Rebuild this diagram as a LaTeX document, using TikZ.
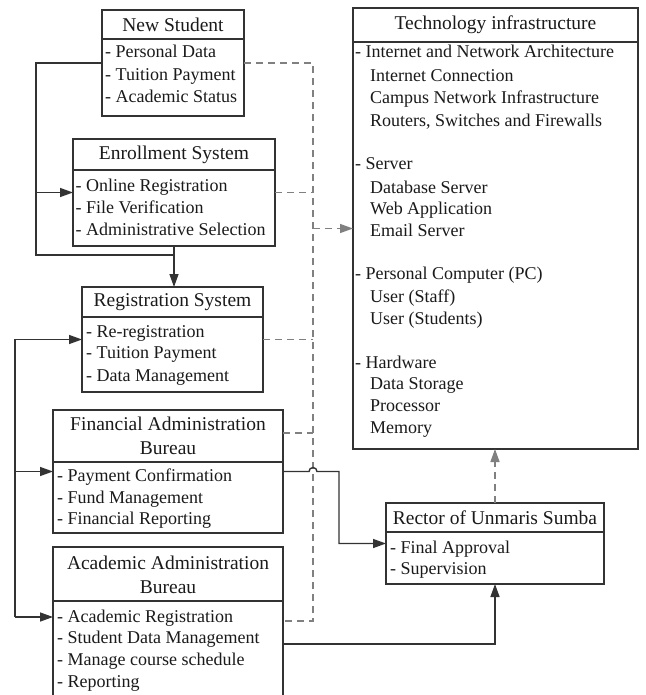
\documentclass[tikz,border=0pt]{standalone}
\usepackage{fontspec}
\setmainfont{Liberation Serif}
\usetikzlibrary{arrows.meta}

\definecolor{ink}{HTML}{1A1A1A}
\definecolor{edge}{HTML}{333333}
\definecolor{dashc}{HTML}{808080}

\tikzset{
  frame/.style={draw=edge, line width=1.5pt, inner sep=0pt, outer sep=0pt},
  divider/.style={draw=edge, line width=1.9pt},
  title/.style={text=ink, font=\fontsize{19.5}{24}\selectfont, align=center, inner sep=0pt},
  item/.style={text=ink, font=\fontsize{18}{22}\selectfont, anchor=base west, inner sep=0pt},
  wire/.style={draw=edge, line width=1.4pt},
  link/.style={draw=dashc, line width=1.4pt, dash pattern=on 7pt off 5pt},
  tip/.style={-{Triangle[length=13pt,width=9pt]}},
}

% frame of a two-part class box: name, left, top, right, bottom, divider
\newcommand\umlframe[6]{%
  \node[frame, minimum width={(#4)-(#2)}, minimum height={(#5)-(#3)}] (#1) at ({((#2)+(#4))/2},{((#3)+(#5))/2}) {};
  \coordinate (#1-dl) at (#2,#6);
  \coordinate (#1-dr) at (#4,#6);
  \draw[divider] (#1-dl) -- (#1-dr);
}

\begin{document}
\begin{tikzpicture}[x=1pt, y=-1pt]
\useasboundingbox (0,0) rectangle (645,695);
\fill[white] (0,0) rectangle (645,695);
\clip (0,0) rectangle (645,695);

% ---------- boxes ----------
\umlframe{ns}{102}{10}{244}{116}{39}
\node[title] (ns-t) at (173,25) {New Student};
\foreach \y/\t [count=\i] in {58/{- Personal Data}, 80.5/{- Tuition Payment}, 103/{- Academic Status}}
  \node[item] (ns-\i) at (105,\y) {\t};

\umlframe{es}{73}{139}{275}{246}{170}
\node[title] (es-t) at (174,155) {Enrollment System};
\foreach \y/\t [count=\i] in {191/{- Online Registration}, 213/{- File Verification}, 235/{- Administrative Selection}}
  \node[item] (es-\i) at (75.5,\y) {\t};

\umlframe{rs}{82}{287}{263}{392}{317}
\node[title] (rs-t) at (172.5,302) {Registration System};
\foreach \y/\t [count=\i] in {337/{- Re-registration}, 358.5/{- Tuition Payment}, 381/{- Data Management}}
  \node[item] (rs-\i) at (86,\y) {\t};

\umlframe{fa}{53}{410}{283}{533}{462}
\node[title] (fa-t) at (168,435.5) {Financial Administration\\Bureau};
\foreach \y/\t [count=\i] in {481/{- Payment Confirmation}, 503/{- Fund Management}, 524/{- Financial Reporting}}
  \node[item] (fa-\i) at (57,\y) {\t};

\umlframe{aa}{53}{547}{283}{712}{601}
\node[title] (aa-t) at (168,574.5) {Academic Administration\\Bureau};
\foreach \y/\t [count=\i] in {622/{- Academic Registration}, 643/{- Student Data Management}, 665/{- Manage course schedule}, 687/{- Reporting}}
  \node[item] (aa-\i) at (57,\y) {\t};

\umlframe{ti}{353}{8}{638}{449}{42}
\node[title] (ti-t) at (495.5,25) {Technology infrastructure};
\foreach \x/\y/\t [count=\i] in {
    355/58/{- Internet and Network Architecture},
    370/82/{Internet Connection},
    370/104/{Campus Network Infrastructure},
    370/127/{Routers, Switches and Firewalls},
    355/169/{- Server},
    370/193/{Database Server},
    370/214/{Web Application},
    370/236/{Email Server},
    355/279/{- Personal Computer (PC)},
    370/302/{User (Staff)},
    370/324/{User (Students)},
    355/368/{- Hardware},
    370/389/{Data Storage},
    370/411/{Processor},
    370/433/{Memory}}
  \node[item] (ti-\i) at (\x,\y) {\t};

\umlframe{rc}{386}{503}{604}{584}{532}
\node[title] (rc-t) at (495,518) {Rector of Unmaris Sumba};
\foreach \y/\t [count=\i] in {553/{- Final Approval}, 574/{- Supervision}}
  \node[item] (rc-\i) at (390,\y) {\t};

% ---------- solid connectors ----------
\coordinate (lbus) at (36,0);
\coordinate (join) at (36,255);
\draw[wire] (ns.west) -| (join) -- (join -| es.south);
\draw[wire, tip] (es.west -| lbus) -- (es.west);
\draw[wire, tip] (es.south) -- (es.south |- rs.north);

\coordinate (bbus) at (15,0);
\coordinate (aa-in) at (53,617);
\draw[wire, tip] (aa-in -| bbus) |- (rs.west);
\draw[wire, tip] (fa.west -| bbus) -- (fa.west);
\draw[wire, tip] (aa-in -| bbus) -- (aa-in);

% ---------- dashed links to the infrastructure ----------
\coordinate (dbus) at (313,0);
\coordinate (fa-out) at (283,433);
\coordinate (aa-out) at (283,621);
\draw[link] (ns.east) -| (aa-out -| dbus) -- (aa-out);
\draw[link] (es.east) -- (es.east -| dbus);
\draw[link] (rs.east) -- (rs.east -| dbus);
\draw[link] (fa-out) -- (fa-out -| dbus);
\draw[link, tip] (ti.west -| dbus) -- (ti.west);
\draw[link, tip] (rc.north) -- (rc.north |- ti.south);

% ---------- approvals to the rector ----------
\coordinate (hopl) at (309,0);
\coordinate (kink) at (339,0);
\draw[wire, tip] (fa.east) -- (fa.east -| hopl) arc[start angle=180, end angle=0, radius=4pt]
  -- (fa.east -| kink) |- (rc.west);
\coordinate (aa-rc) at (283,644);
\draw[wire, tip] (aa-rc) -| (rc.south);
\end{tikzpicture}
\end{document}
